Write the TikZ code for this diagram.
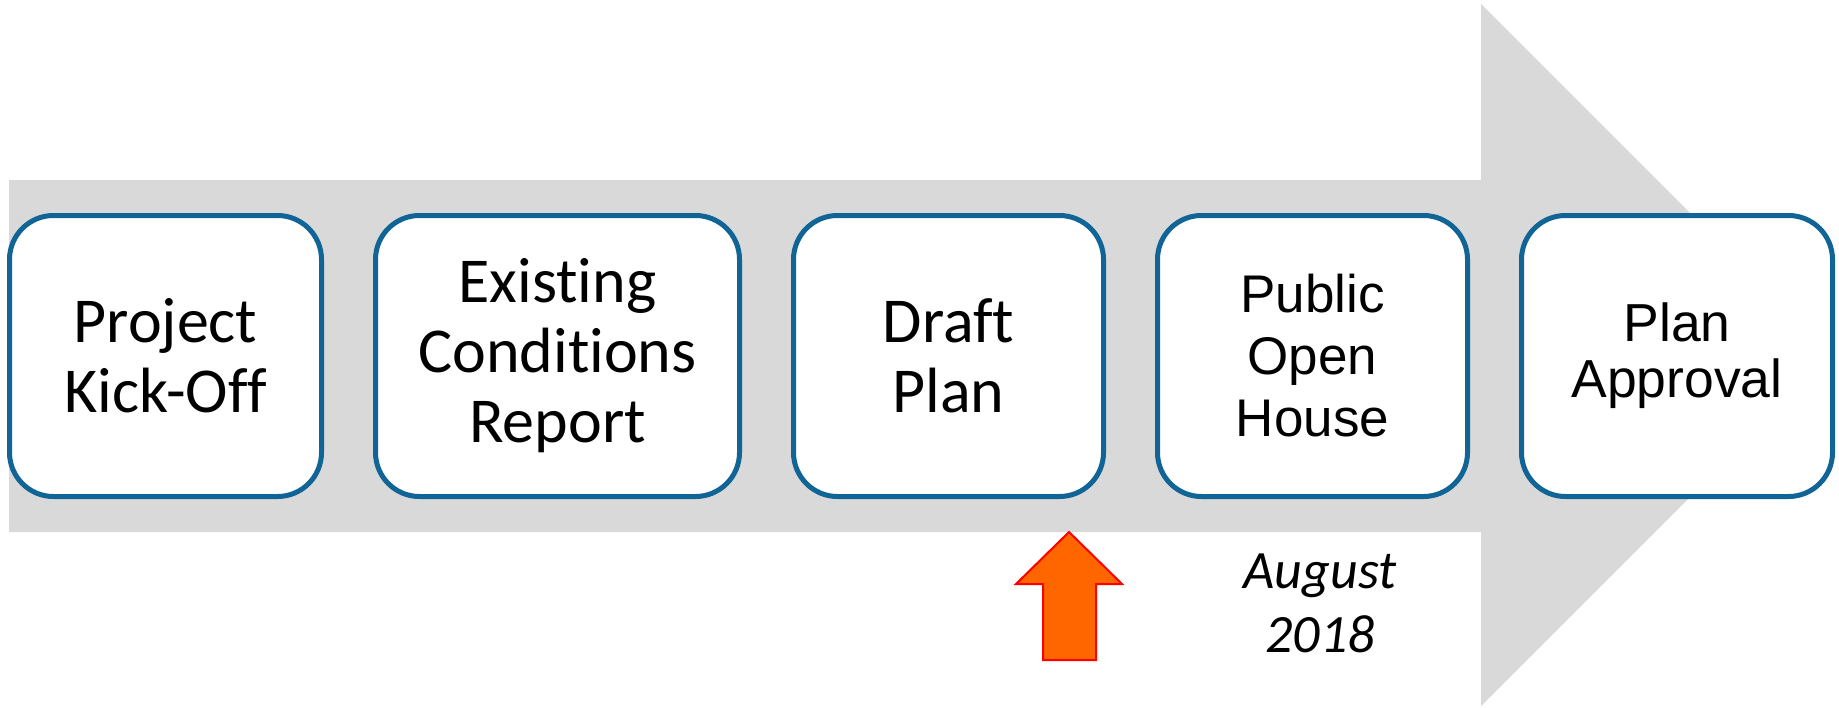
\documentclass[tikz,border=0pt]{standalone}
\usepackage{fontspec}
\setmainfont{Carlito}[Ligatures=NoCommon]
\newfontfamily\arialf{Liberation Sans}
\definecolor{bandgray}{HTML}{D9D9D9}
\definecolor{boxblue}{RGB}{16,100,150}
\definecolor{arroworange}{HTML}{FF6600}
\tikzset{
  stepbox/.style={draw=boxblue, line width=5pt, fill=white, rounded corners=44pt,
    minimum height=281pt, inner sep=0pt, align=center},
  calfont/.style={font={\fontsize{64}{70}\selectfont}},
  arfontA/.style={font={\arialf\fontsize{53}{62}\selectfont}},
  arfontB/.style={font={\arialf\fontsize{53.5}{56}\selectfont}},
}
\begin{document}
\begin{tikzpicture}[x=1pt,y=-1pt]
\useasboundingbox (0,0) rectangle (1839,707);
% big gray arrow
\fill[bandgray] (9,180) -- (1481,180) -- (1481,4) -- (1832,355) -- (1481,706) -- (1481,532) -- (9,532) -- cycle;
% step boxes
\node[stepbox, calfont, minimum width=312pt] (s1) at (165.5,356) {Project\\Kick-Off};
\node[stepbox, calfont, minimum width=364pt] (s2) at (557.5,356) {Existing\\Conditions\\Report};
\node[stepbox, calfont, minimum width=310pt] (s3) at (948.5,356) {Draft\\Plan};
\node[stepbox, arfontA, minimum width=310pt] (s4) at (1312.5,356) {Public\\Open\\House};
\node[stepbox, arfontB, minimum width=311pt] (s5) at (1677,356) {Plan\\Approval};
% orange marker arrow
\draw[draw=red, line width=2pt, fill=arroworange, line join=miter]
  (1069,532) -- (1122,584) -- (1096,584) -- (1096,660) -- (1043,660) -- (1043,584) -- (1016,584) -- cycle;
% date label
\node[font={\itshape\fontsize{54}{64}\selectfont}, align=center, inner sep=0pt] (date) at (1320,603) {August\\2018};
\end{tikzpicture}
\end{document}
